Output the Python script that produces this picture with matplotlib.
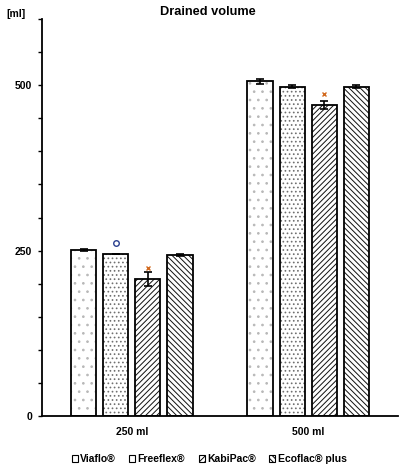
import matplotlib.pyplot as plt
from matplotlib.patches import Patch
import numpy as np

plt.rcParams['font.family'] = ['Liberation Sans', 'DejaVu Sans']
plt.rcParams['font.weight'] = 'bold'
plt.rcParams['hatch.linewidth'] = 0.7

groups = ["250 ml", "500 ml"]
products = ["Viaflo®", "Freeflex®", "KabiPac®", "Ecoflac® plus"]
means = {
    "Viaflo®": [251, 506],
    "Freeflex®": [245, 498],
    "KabiPac®": [207, 470],
    "Ecoflac® plus": [243.5, 498],
}
errors = {
    "Viaflo®": [1, 3.5],
    "Freeflex®": [0, 3],
    "KabiPac®": [10.5, 6],
    "Ecoflac® plus": [1, 3],
}
hatches = ["..", "....", "//////", "\\\\\\\\\\\\"]
hatch_cols = ["#b8b8b8", "#707070", "#101010", "#101010"]

# significance markers (group index, bar index, value, marker)
sig_marks = [(0, 1, 261.5, "o"), (0, 2, 223, "x"), (1, 2, 486, "x")]

fig = plt.figure(figsize=(4.02, 4.72), dpi=100)
ax = fig.add_axes([0.1045, 0.1186, 0.8855, 0.8411])

x = np.arange(len(groups))
width = 0.142
step = 0.182
offsets = (np.arange(len(products)) - 1.5) * step

for i, p in enumerate(products):
    xpos = x + offsets[i]
    ax.bar(xpos, means[p], width, color="white", edgecolor=hatch_cols[i],
           hatch=hatches[i], linewidth=0, zorder=2)
    ax.bar(xpos, means[p], width, color="none", edgecolor="black",
           linewidth=1.3, zorder=3)
    ax.errorbar(xpos, means[p], yerr=errors[p], fmt="none", ecolor="black",
                elinewidth=1.2, capsize=3, capthick=1.2, zorder=4)

for g, b, v, m in sig_marks:
    xp = x[g] + offsets[b]
    if m == "o":
        ax.plot(xp, v, marker="o", ms=4, mfc="none", mec="#2a3f8f", mew=1, zorder=5)
    else:
        ax.plot(xp, v, marker="x", ms=3.5, color="#d2691e", mew=1, zorder=5)

ax.set_xlim(-0.51, 1.51)
ax.set_ylim(0, 600)
ax.set_yticks([0, 250, 500])
ax.set_yticks(np.arange(0, 601, 50), minor=True)
ax.tick_params(axis="y", which="both", length=3, width=1, labelsize=7.5, pad=4)
ax.set_xticks(x)
ax.set_xticklabels(groups, fontsize=7.5)
ax.tick_params(axis="x", length=0, pad=8)
for s in ["top", "right"]:
    ax.spines[s].set_visible(False)
ax.spines["left"].set_linewidth(1.3)
ax.spines["bottom"].set_linewidth(1.3)

fig.text(0.517, 0.975, "Drained volume", ha="center", va="center", fontsize=9.2, fontweight="bold")
fig.text(0.04, 0.97, "[ml]", ha="center", va="center", fontsize=7.5, fontweight="bold")

leg_hatches = [None, None, "//////", "\\\\\\\\\\\\"]
handles = [Patch(facecolor="white", edgecolor="black", hatch=h, linewidth=0.8) for h in leg_hatches]
fig.legend(handles, products, loc="center", bbox_to_anchor=(0.52, 0.027), ncol=4,
           frameon=False, fontsize=7.5, handlelength=0.6, handleheight=0.6,
           handletextpad=0.2, columnspacing=1.3)

fig.savefig("out.png", dpi=100)
